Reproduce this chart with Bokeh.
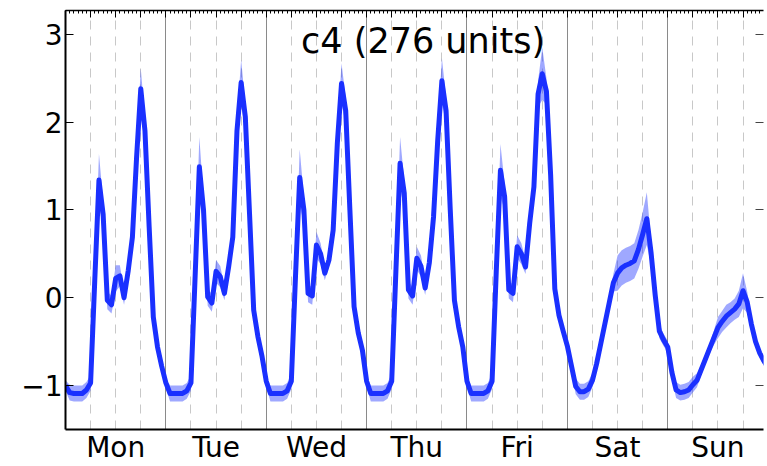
import numpy as np
from bokeh.plotting import figure
from bokeh.models import (Range1d, LinearAxis, FixedTicker, Grid, Label, ColumnDataSource,
                          CustomLabelingPolicy)
from bokeh.embed import file_html
from bokeh.resources import INLINE

# ---- data (hourly mean profile, standardized units) ----
day_names = ["Mon", "Tue", "Wed", "Thu", "Fri", "Sat", "Sun"]

mon = [-1.00, -1.08, -1.09, -1.09, -1.09, -1.05, -0.97, 0.20, 1.34, 0.95, -0.03, -0.08,
       0.22, 0.25, 0.00, 0.31, 0.69, 1.60, 2.38, 1.90, 0.81, -0.22, -0.56, -0.78]
tue = [-0.97, -1.09, -1.09, -1.09, -1.09, -1.06, -0.97, 0.25, 1.49, 1.00, 0.01, -0.06,
       0.30, 0.24, 0.05, 0.35, 0.69, 1.90, 2.45, 2.06, 0.96, -0.14, -0.44, -0.67]
wed = [-0.95, -1.09, -1.09, -1.09, -1.09, -1.06, -0.95, 0.25, 1.37, 1.00, 0.05, 0.02,
       0.60, 0.50, 0.28, 0.43, 0.77, 1.76, 2.44, 2.13, 1.00, -0.10, -0.40, -0.60]
thu = [-0.95, -1.09, -1.09, -1.09, -1.09, -1.06, -0.95, 0.30, 1.53, 1.19, 0.09, 0.02,
       0.45, 0.36, 0.11, 0.40, 0.92, 1.79, 2.47, 2.13, 1.00, -0.03, -0.33, -0.56]
fri = [-0.95, -1.09, -1.09, -1.09, -1.09, -1.06, -0.95, 0.30, 1.45, 1.15, 0.09, 0.05,
       0.58, 0.50, 0.35, 0.85, 1.26, 2.32, 2.55, 2.35, 1.40, 0.10, -0.20, -0.38]
sat = [-0.55, -0.78, -1.01, -1.07, -1.07, -1.04, -0.94, -0.75, -0.52, -0.29, -0.06, 0.17,
       0.28, 0.34, 0.37, 0.39, 0.42, 0.55, 0.72, 0.90, 0.52, 0.03, -0.38, -0.48]
sun = [-0.56, -0.85, -1.05, -1.08, -1.07, -1.05, -0.99, -0.94, -0.82, -0.70, -0.58, -0.46,
       -0.34, -0.27, -0.21, -0.17, -0.13, -0.07, 0.08, -0.05, -0.30, -0.50, -0.63, -0.72, -0.80]

# half-width of the shaded band
mon_err = [0.06, 0.09, 0.09, 0.09, 0.09, 0.09, 0.09, 0.10, 0.30, 0.15, 0.10, 0.10,
           0.15, 0.12, 0.08, 0.08, 0.08, 0.15, 0.23, 0.15, 0.08, 0.06, 0.06, 0.05]
tue_err = [0.06, 0.09, 0.09, 0.09, 0.09, 0.09, 0.09, 0.10, 0.34, 0.15, 0.10, 0.10,
           0.13, 0.12, 0.08, 0.08, 0.08, 0.15, 0.26, 0.15, 0.08, 0.06, 0.06, 0.05]
wed_err = [0.06, 0.09, 0.09, 0.09, 0.09, 0.09, 0.09, 0.10, 0.32, 0.15, 0.10, 0.10,
           0.15, 0.12, 0.08, 0.08, 0.08, 0.15, 0.23, 0.15, 0.08, 0.06, 0.06, 0.05]
thu_err = [0.06, 0.09, 0.09, 0.09, 0.09, 0.09, 0.09, 0.10, 0.30, 0.15, 0.10, 0.10,
           0.13, 0.12, 0.08, 0.08, 0.08, 0.15, 0.26, 0.15, 0.08, 0.06, 0.06, 0.05]
fri_err = [0.06, 0.09, 0.09, 0.09, 0.09, 0.09, 0.09, 0.10, 0.30, 0.15, 0.10, 0.10,
           0.13, 0.12, 0.08, 0.08, 0.08, 0.15, 0.30, 0.15, 0.08, 0.06, 0.06, 0.05]
sat_err = [0.07, 0.08, 0.09, 0.09, 0.09, 0.09, 0.08, 0.06, 0.06, 0.06, 0.06, 0.10,
           0.20, 0.20, 0.20, 0.20, 0.20, 0.22, 0.25, 0.30, 0.15, 0.08, 0.08, 0.07]
sun_err = [0.07, 0.08, 0.09, 0.09, 0.09, 0.09, 0.09, 0.08, 0.06, 0.06, 0.06, 0.08,
           0.12, 0.12, 0.13, 0.12, 0.12, 0.15, 0.20, 0.12, 0.08, 0.06, 0.05, 0.05, 0.05]

y_ticks = [-1, 0, 1, 2, 3]
y_tick_labels = ["\u22121", "0", "1", "2", "3"]

# ---- assemble ----
mean = np.array(mon + tue + wed + thu + fri + sat + sun)
err = np.array(mon_err + tue_err + wed_err + thu_err + fri_err + sat_err + sun_err)
hours = np.arange(len(mean))
src = ColumnDataSource(dict(x=hours, y=mean, lo=mean - err, hi=mean + err))

n_days = len(day_names)
day_bounds = [24 * d for d in range(n_days + 1)]
quarter_ticks = [6 * q for q in range(4 * n_days + 1) if q % 4 != 0]
all_six = [6 * q for q in range(4 * n_days + 1)]
hour_ticks = list(range(0, 24 * n_days + 1))
noon_ticks = [24 * d + 12 for d in range(n_days)]

FONT = "DejaVu Sans"
BLUE = "#1a30ff"

p = figure(width=767, height=466, x_range=Range1d(0, 166.9), y_range=Range1d(-1.5, 3.27),
           output_backend="svg", toolbar_location=None,
           min_border_left=65, min_border_right=0, min_border_top=10, min_border_bottom=36)
p.outline_line_color = None
p.background_fill_color = "white"
p.border_fill_color = "white"
p.xgrid.visible = False
p.ygrid.visible = False

# grids: solid at day boundaries, dashed every 6 hours
p.add_layout(Grid(dimension=0, ticker=FixedTicker(ticks=quarter_ticks),
                  grid_line_color="#c8c8c8", grid_line_width=1, grid_line_dash="9 7"))
p.add_layout(Grid(dimension=0, ticker=FixedTicker(ticks=day_bounds[1:-1]),
                  grid_line_color="#8a8a8a", grid_line_width=1))

# band + mean line
p.varea(x="x", y1="lo", y2="hi", source=src, fill_color=BLUE, fill_alpha=0.42)
p.line(x="x", y="y", source=src, line_color=BLUE, line_width=5, line_join="round")

# bottom axis: day names at noon
xa = p.xaxis[0]
xa.ticker = FixedTicker(ticks=noon_ticks)
xa.major_label_overrides = {t: day_names[t // 24] for t in noon_ticks}
xa.major_tick_in = 0
xa.major_tick_out = 0
xa.minor_tick_in = 0
xa.minor_tick_out = 0
xa.axis_line_color = "black"
xa.axis_line_width = 2
xa.major_label_text_font = FONT
xa.major_label_text_font_size = "28px"
xa.major_label_text_color = "black"
xa.major_label_standoff = 1

# left axis
ya = p.yaxis[0]
ya.ticker = FixedTicker(ticks=y_ticks)
ya.major_label_overrides = dict(zip(y_ticks, y_tick_labels))
ya.major_tick_in = 8
ya.major_tick_out = 0
ya.minor_tick_in = 0
ya.minor_tick_out = 0
ya.major_tick_line_color = "black"
ya.axis_line_color = "black"
ya.axis_line_width = 2
ya.major_label_text_font = FONT
ya.major_label_text_font_size = "28px"
ya.major_label_text_color = "black"
ya.major_label_standoff = 3

# top axis: hourly minor ticks, 6-hour major ticks, no labels
top = LinearAxis(ticker=FixedTicker(ticks=all_six, minor_ticks=hour_ticks),
                 major_tick_in=7, major_tick_out=0, minor_tick_in=3, minor_tick_out=0,
                 major_label_policy=CustomLabelingPolicy(code="return []"),
                 major_label_text_font_size="1px", major_label_standoff=0,
                 axis_line_color="black", axis_line_width=1.5,
                 major_tick_line_color="black", minor_tick_line_color="black")
p.add_layout(top, "above")

# right axis: only inward ticks visible at the window edge
right = LinearAxis(ticker=FixedTicker(ticks=y_ticks),
                   major_tick_in=8, major_tick_out=0, minor_tick_in=0, minor_tick_out=0,
                   major_label_policy=CustomLabelingPolicy(code="return []"),
                   major_label_text_font_size="1px", major_label_standoff=0,
                   axis_line_color=None, major_tick_line_color="#444444")
p.add_layout(right, "right")

# title inside the plot
p.add_layout(Label(x=85.5, y=2.92, text="c4 (276 units)", text_align="center",
                   text_baseline="alphabetic", text_font=FONT, text_font_size="35px",
                   text_color="black"))

open("out.html", "w").write(file_html(p, INLINE))
